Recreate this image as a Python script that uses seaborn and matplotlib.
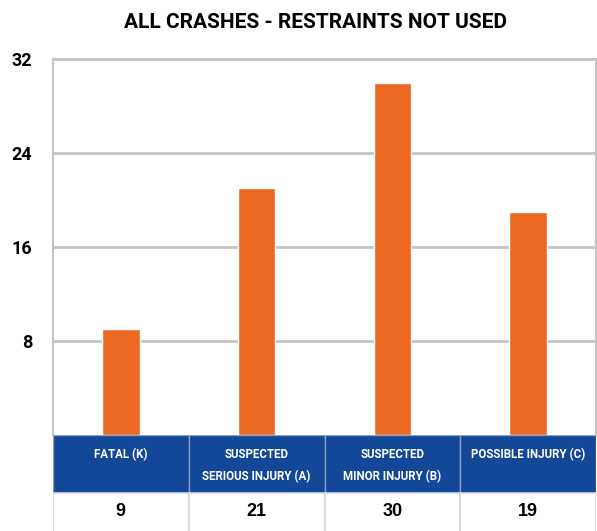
import seaborn as sns
import matplotlib.pyplot as plt
import pandas as pd
from matplotlib.patches import Rectangle

# data
categories = ['FATAL (K)', 'SUSPECTED\nSERIOUS INJURY (A)',
              'SUSPECTED\nMINOR INJURY (B)', 'POSSIBLE INJURY (C)']
crashes = [9, 21, 30, 19]
y_ticks = [8, 16, 24, 32]
title = 'ALL CRASHES - RESTRAINTS NOT USED'

ORANGE = '#EB6823'
BLUE = '#134797'
GRID = '#C4C4C4'

sns.set_style('white')
narrow = ['Liberation Sans Narrow', 'Roboto', 'DejaVu Sans']
plt.rcParams['font.family'] = narrow
plt.rcParams['text.color'] = 'black'
plt.rcParams['ytick.color'] = 'black'

df = pd.DataFrame({'cat': categories, 'n': crashes})

W, H = 597, 531
fig = plt.figure(figsize=(W / 100, H / 100), dpi=100)
ax = fig.add_axes([53 / W, (H - 435) / H, (596 - 53) / W, (435 - 59) / H])

sns.barplot(data=df, x='cat', y='n', color=ORANGE, saturation=1,
            width=0.275, ax=ax, zorder=3)
ax.set_ylim(0, 32)
ax.set_xlim(-0.5, len(categories) - 0.5)
ax.set_yticks(y_ticks)
ax.set_yticklabels([str(t) for t in y_ticks], fontsize=13, fontweight='bold',
                   fontstretch='condensed', color='black')
ax.tick_params(axis='y', length=0, pad=15)
ax.set_xticks([])
ax.set_xlabel('')
ax.set_ylabel('')
for t in y_ticks:
    ax.axhline(t, color=GRID, lw=2, zorder=1)
for s in ['left', 'right', 'top']:
    ax.spines[s].set_color(GRID)
    ax.spines[s].set_linewidth(1.5)
ax.spines['bottom'].set_visible(False)

fig.text(315 / W, 1 - 22 / H, title, ha='center', va='center', color='black',
         fontsize=15, fontweight='bold', fontstretch='condensed')

# table under the bars: header row + value row
tab = fig.add_axes([53 / W, 0, (596 - 53) / W, (H - 435) / H])
tab.set_xlim(-0.5, len(categories) - 0.5)
tab.set_ylim(0, 96)
tab.axis('off')
for i, (cat, n) in enumerate(zip(categories, crashes)):
    tab.add_patch(Rectangle((i - 0.5, 38), 1, 58, facecolor=BLUE,
                            edgecolor='#8A9CC4', lw=1))
    tab.add_patch(Rectangle((i - 0.5, -2), 1, 40, facecolor='white',
                            edgecolor='#D6D6D6', lw=1.2))
    tab.text(i, 83, cat, ha='center', va='top', color='white',
             fontsize=8.3, fontweight='bold', fontstretch='condensed',
             linespacing=1.9)
    tab.text(i, 19, str(n), ha='center', va='center', color='black',
             fontsize=13, fontweight='bold', family='Liberation Sans')

fig.savefig('out.png', dpi=100)
